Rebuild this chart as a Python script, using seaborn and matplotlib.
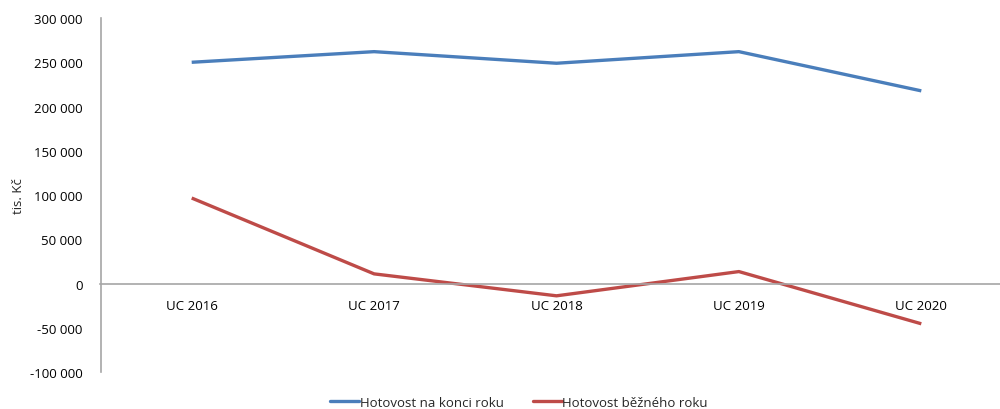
import matplotlib
matplotlib.use("Agg")
import matplotlib.pyplot as plt
import matplotlib.ticker as mticker
import pandas as pd
import seaborn as sns

categories = ["UC 2016", "UC 2017", "UC 2018", "UC 2019", "UC 2020"]
cash_end_of_year = [250000, 262000, 248900, 262000, 217700]
cash_current_year = [96600, 10900, -13900, 13500, -45500]
series_names = ["Hotovost na konci roku", "Hotovost běžného roku"]
y_ticks = [-100000, -50000, 0, 50000, 100000, 150000, 200000, 250000, 300000]

df = pd.DataFrame({
    "kategorie": categories * 2,
    "pos": list(range(len(categories))) * 2,
    "hodnota": cash_end_of_year + cash_current_year,
    "rada": [series_names[0]] * len(categories) + [series_names[1]] * len(categories),
})

sns.set_theme(style="white")
plt.rcParams["font.family"] = ["Open Sans", "DejaVu Sans"]

fig = plt.figure(figsize=(10, 4.1), dpi=100)
ax = fig.add_axes([0.1005, 0.0902, 0.912, 0.8634])

palette = {series_names[0]: "#4A7EBB", series_names[1]: "#BE4B48"}
sns.lineplot(data=df, x="pos", y="hodnota", hue="rada", palette=palette,
             linewidth=2.4, ax=ax, legend=False, solid_capstyle="butt")

ax.set_xlim(-0.5, 4.5)
ax.set_ylim(-100000, 300000)
ax.set_yticks(y_ticks)
ax.yaxis.set_major_formatter(mticker.FuncFormatter(
    lambda v, _: f"{int(v):,}".replace(",", " ")))
ax.set_xticks(range(len(categories)))
ax.set_xticklabels(categories)

for s in ["top", "right"]:
    ax.spines[s].set_visible(False)
ax.spines["left"].set_color("#A6A6A6")
ax.spines["left"].set_linewidth(1.2)
ax.spines["bottom"].set_color("#A6A6A6")
ax.spines["bottom"].set_linewidth(1.2)
ax.spines["bottom"].set_position(("data", 0))

ax.tick_params(axis="y", length=0, pad=13, labelsize=9.5, colors="#000000")
ax.tick_params(axis="x", length=0, pad=11, labelsize=9.5, colors="#000000")
ax.set_xlabel("")
ax.set_ylabel("tis. Kč", fontsize=9.5)
ax.yaxis.set_label_coords(-0.083, 0.5)
ax.grid(False)

handles = [plt.Line2D([0], [0], color=palette[n], linewidth=2.4) for n in series_names]
fig.legend(handles, series_names, loc="center", bbox_to_anchor=(0.519, 0.017),
           ncol=2, frameon=False, fontsize=9.5, handlelength=2.2,
           handletextpad=0.05, columnspacing=2.2)

fig.savefig("out.png", dpi=100)
